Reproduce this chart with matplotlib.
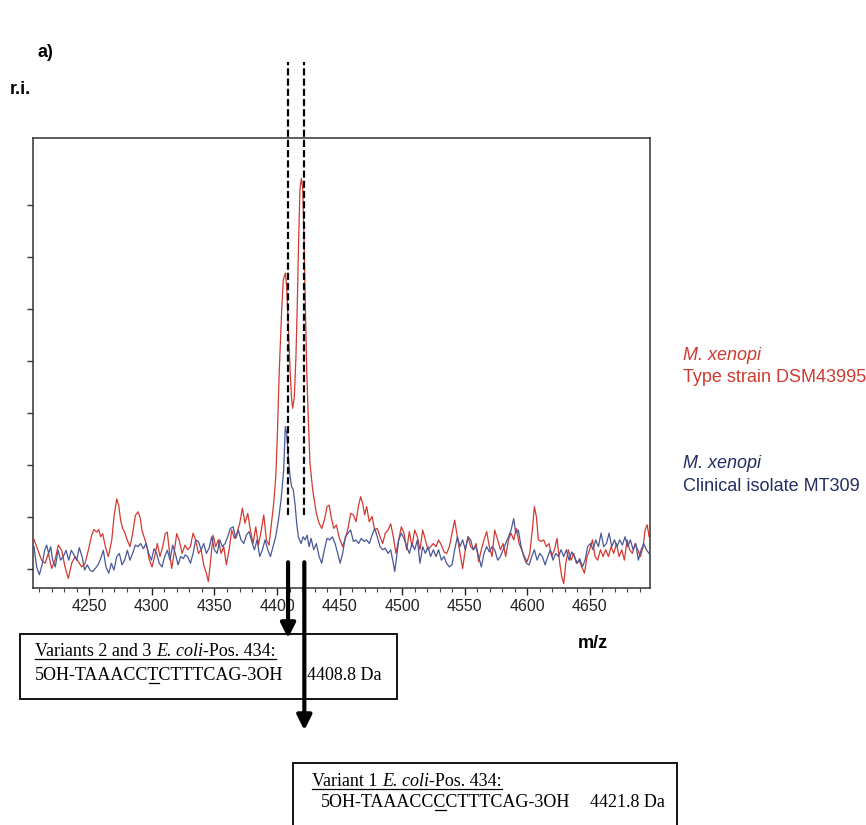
import matplotlib
matplotlib.use('Agg')
import matplotlib.pyplot as plt
from matplotlib.patches import Rectangle
from matplotlib.lines import Line2D

plt.rcParams['font.family'] = ['Liberation Sans', 'DejaVu Sans']

# --- data (m/z, relative intensity) ---
red_mz = [4205.8, 4207.9, 4211.9, 4214.6, 4217.3, 4219.9, 4222.6, 4225.2, 4227.9, 4230.6,
          4233.2, 4235.9, 4238.6, 4241.2, 4243.9, 4246.6, 4249.2, 4251.9, 4253.7, 4255.9,
          4257.5, 4259.1, 4260.7, 4262.8, 4265.2, 4267.9, 4269.7, 4271.9, 4273.5, 4275.0,
          4276.6, 4278.2, 4280.4, 4282.5, 4284.6, 4286.8, 4288.9, 4290.5, 4292.1, 4293.7,
          4295.8, 4298.0, 4300.1, 4302.2, 4304.3, 4306.5, 4308.6, 4310.7, 4312.3, 4313.9,
          4315.8, 4317.7, 4319.8, 4321.9, 4324.1,
          4326.5, 4328.6, 4330.8, 4332.9, 4335.0, 4337.2, 4339.3, 4341.4, 4343.5, 4345.1,
          4346.7, 4348.9, 4351.0, 4353.1, 4355.3, 4357.4, 4359.5, 4361.7, 4363.8, 4365.9,
          4368.0, 4370.2, 4372.3, 4374.4, 4376.6, 4378.7, 4380.8, 4383.0, 4385.1, 4387.2,
          4389.4, 4391.5, 4393.6, 4395.7, 4397.3,
          4399.0, 4400.2, 4401.8, 4403.7, 4405.0, 4406.6, 4407.7, 4409.0, 4410.4, 4411.7,
          4412.5, 4413.8, 4415.1, 4416.2, 4417.3, 4418.3, 4419.4, 4420.5, 4421.5, 4422.6,
          4423.7, 4425.0, 4426.3, 4428.5, 4431.4, 4433.6, 4435.7, 4437.8, 4440.0, 4441.6,
          4443.2, 4445.3, 4447.4, 4449.5,
          4452.4, 4454.6, 4456.7, 4458.8, 4461.0, 4463.1, 4465.2, 4466.8, 4468.4, 4470.0,
          4471.6, 4473.7, 4475.9, 4478.0, 4480.1, 4482.3, 4484.4, 4486.5, 4488.7, 4490.8,
          4492.9, 4495.0, 4497.2, 4499.3, 4501.4, 4503.6, 4505.7, 4507.8, 4510.0, 4512.1,
          4514.2, 4516.4, 4518.5, 4520.6, 4522.7, 4524.9, 4527.0, 4529.1, 4531.3, 4533.4,
          4535.5, 4537.7, 4539.8, 4541.9, 4544.1, 4546.2, 4548.3, 4550.4, 4552.6, 4554.7,
          4556.8, 4559.0, 4561.1, 4563.2, 4565.4, 4567.5, 4569.6, 4571.8, 4573.9,
          4576.3, 4578.5, 4580.6, 4582.7, 4584.9, 4587.0, 4589.1, 4591.2, 4593.4, 4595.5,
          4597.6, 4599.8, 4601.9, 4604.0, 4605.6, 4607.2, 4608.8, 4611.0, 4613.1, 4615.2,
          4617.3, 4619.5, 4621.6, 4623.7, 4625.9, 4627.5, 4629.1, 4630.7, 4632.8, 4634.9,
          4637.1, 4639.2, 4641.3, 4643.5, 4645.6, 4647.7, 4649.8, 4652.0, 4654.1, 4656.2,
          4658.4, 4660.5, 4662.6, 4664.8, 4666.9, 4669.0, 4671.2, 4673.3, 4675.4, 4677.5,
          4679.7, 4681.8, 4683.9, 4686.1, 4688.2, 4690.3, 4692.5, 4694.1, 4695.7, 4697.3]
red_ri = [0.57, 0.43, 0.17, 0.11, 0.30, 0.01, 0.17, 0.46, 0.36, 0.04,
          -0.18, 0.11, 0.24, 0.14, 0.04, 0.11, 0.36, 0.65, 0.76, 0.71,
          0.76, 0.62, 0.68, 0.43, 0.24, 0.55, 1.00, 1.35, 1.22, 0.94,
          0.78, 0.71, 0.55, 0.43, 0.68, 1.03, 1.10, 1.00, 0.74, 0.62,
          0.46, 0.17, 0.04, 0.24, 0.49, 0.24, 0.43, 0.68, 0.71, 0.36,
          0.01, 0.30, 0.68, 0.55, 0.30,
          0.46, 0.37, 0.43, 0.69, 0.56, 0.30, 0.37, 0.08, -0.08, -0.24,
          0.11, 0.65, 0.43, 0.56, 0.30, 0.43, 0.08, 0.37, 0.75, 0.59,
          0.69, 0.88, 1.17, 0.88, 1.07, 0.75, 0.49, 0.81, 0.46, 0.72,
          1.04, 0.56, 0.46, 0.91, 1.26,
          1.78, 2.54, 3.83, 4.98, 5.56, 5.69, 5.43, 4.66, 3.83, 3.25,
          3.09, 3.31, 4.08, 5.11, 6.39, 7.29, 7.51, 7.35, 6.39, 5.11,
          3.83, 2.87, 2.03, 1.52, 1.07, 0.88, 0.78, 0.94, 1.20, 1.23,
          1.00, 0.78, 0.85, 0.62,
          0.43, 0.59, 0.78, 1.07, 1.04, 0.91, 1.23, 1.39, 1.26, 1.04,
          1.20, 0.91, 1.01, 0.75, 0.78, 0.62, 0.49, 0.69, 0.75, 0.87,
          0.62, 0.30, 0.56, 0.81, 0.69, 0.37, 0.72, 0.43, 0.75, 0.62,
          0.37, 0.75, 0.56, 0.37, 0.43, 0.49, 0.43, 0.56, 0.46, 0.33,
          0.30, 0.43, 0.69, 0.94, 0.62, 0.30, 0.01, 0.37, 0.62, 0.43,
          0.37, 0.49, 0.14, 0.37, 0.56, 0.72, 0.43, 0.24, 0.75,
          0.56, 0.37, 0.49, 0.24, 0.56, 0.69, 0.56, 0.78, 0.49, 0.37,
          0.24, 0.14, 0.30, 0.75, 1.20, 1.01, 0.56, 0.53, 0.56, 0.43,
          0.49, 0.24, 0.37, 0.59, 0.11, -0.15, -0.28, 0.11, 0.37, 0.17,
          0.30, 0.11, 0.17, 0.04, -0.08, 0.24, 0.37, 0.56, 0.24, 0.17,
          0.37, 0.24, 0.37, 0.24, 0.43, 0.30, 0.49, 0.24, 0.37, 0.17,
          0.56, 0.37, 0.30, 0.49, 0.37, 0.24, 0.43, 0.75, 0.85, 0.62]

blue_mz = [4205.8, 4207.9, 4210.1, 4212.2, 4214.3, 4215.9, 4217.5, 4219.1, 4220.7,
           4222.8, 4225.0, 4227.1, 4229.2, 4231.4, 4233.5, 4235.6, 4237.8, 4239.9, 4242.0,
           4244.2, 4246.3, 4248.4, 4250.5, 4252.7, 4254.8, 4256.9, 4259.1, 4261.2, 4263.3,
           4265.5, 4267.6, 4269.7, 4271.9, 4274.0, 4276.1, 4278.2, 4280.4, 4282.5, 4284.6,
           4286.8, 4288.9, 4291.0, 4293.2, 4295.3, 4297.4, 4299.6, 4301.7, 4303.8, 4305.9,
           4308.1, 4310.2, 4312.3, 4314.5, 4316.6, 4318.7, 4320.9, 4323.0, 4325.1,
           4326.5, 4328.6, 4330.8, 4332.9, 4335.0, 4337.2, 4339.3, 4341.4, 4343.5, 4345.7,
           4347.8, 4349.9, 4352.1, 4354.2, 4356.3, 4358.5, 4360.6, 4362.7, 4364.9, 4367.0,
           4369.1, 4371.2, 4373.4, 4375.5, 4377.6, 4379.8, 4381.9, 4384.0, 4386.2, 4388.3,
           4390.4, 4392.6, 4394.7, 4396.8, 4398.9, 4401.1, 4403.2, 4405.3,
           4406.6, 4407.7, 4409.0, 4410.4, 4411.7, 4413.0, 4414.3, 4415.7, 4417.0,
           4419.2, 4420.8, 4422.4, 4424.0, 4425.6, 4427.2, 4429.3, 4431.4, 4433.6, 4435.7,
           4437.8, 4440.0, 4442.1, 4444.2, 4446.4, 4448.5, 4450.4,
           4452.4, 4454.6, 4456.7, 4458.8, 4461.0, 4463.1, 4465.2, 4467.3, 4469.5, 4471.6,
           4473.7, 4475.9, 4478.0, 4480.1, 4482.3, 4484.4, 4486.5, 4488.7, 4490.8, 4492.9,
           4494.0, 4495.6, 4497.2, 4499.3, 4501.4, 4503.6, 4505.7, 4507.8, 4510.0, 4512.1,
           4514.2, 4516.4, 4518.5, 4520.6, 4522.7, 4524.9, 4527.0, 4529.1, 4531.3, 4533.4,
           4535.5, 4537.7, 4539.8, 4541.9, 4544.1, 4546.2, 4548.3, 4550.4, 4552.6, 4554.7,
           4556.8, 4559.0, 4561.1, 4563.2, 4565.4, 4567.5, 4569.6, 4571.8, 4573.9,
           4576.3, 4578.5, 4580.6, 4582.7, 4584.9, 4587.0, 4589.1,
           4590.7, 4592.8, 4595.0, 4597.1, 4599.2, 4601.4, 4603.5, 4605.6, 4607.8, 4609.9,
           4612.0, 4614.2, 4616.3, 4618.4, 4620.5, 4622.7, 4624.8, 4626.9, 4629.1, 4631.2,
           4633.3, 4635.5, 4637.6, 4639.7, 4641.9, 4644.0, 4646.1, 4648.2, 4650.4, 4652.5,
           4654.6, 4656.8, 4658.9, 4661.0, 4663.2, 4665.3, 4667.4, 4669.6, 4671.7, 4673.8,
           4675.9, 4678.1, 4680.2, 4682.3, 4684.5, 4686.6, 4688.7, 4690.9, 4693.0, 4695.1,
           4697.3]
blue_ri = [0.43, 0.04, -0.11, 0.08, 0.36, 0.46, 0.30, 0.43, 0.17,
           0.04, 0.36, 0.17, 0.24, 0.36, 0.17, 0.36, 0.27, 0.17, 0.41,
           0.24, -0.02, 0.08, -0.02, -0.05, 0.01, 0.08, 0.20, 0.36, 0.04,
           -0.08, 0.11, -0.02, 0.24, 0.30, 0.08, 0.17, 0.36, 0.17, 0.30,
           0.46, 0.43, 0.49, 0.39, 0.49, 0.30, 0.17, 0.39, 0.30, 0.11,
           0.04, 0.24, 0.36, 0.17, 0.46, 0.30, 0.08, 0.24, 0.20,
           0.27, 0.24, 0.11, 0.30, 0.56, 0.53, 0.37, 0.49, 0.30, 0.40,
           0.62, 0.37, 0.30, 0.56, 0.43, 0.49, 0.62, 0.78, 0.81, 0.59,
           0.75, 0.56, 0.49, 0.65, 0.72, 0.53, 0.37, 0.56, 0.24, 0.37,
           0.56, 0.37, 0.24, 0.43, 0.62, 0.94, 1.33, 1.90,
           2.74, 2.61, 2.16, 1.78, 1.58, 1.52, 1.26, 0.88, 0.62,
           0.49, 0.62, 0.56, 0.65, 0.43, 0.59, 0.37, 0.49, 0.24, 0.11,
           0.37, 0.59, 0.56, 0.62, 0.49, 0.30, 0.11,
           0.30, 0.62, 0.69, 0.75, 0.53, 0.56, 0.49, 0.59, 0.53, 0.56,
           0.49, 0.65, 0.78, 0.62, 0.43, 0.37, 0.40, 0.30, 0.37, 0.11,
           -0.05, 0.24, 0.56, 0.69, 0.59, 0.43, 0.30, 0.49, 0.37, 0.56,
           0.11, 0.43, 0.30, 0.43, 0.24, 0.37, 0.24, 0.37, 0.17, 0.24,
           0.11, 0.04, 0.08, 0.37, 0.62, 0.43, 0.56, 0.37, 0.62, 0.56,
           0.37, 0.43, 0.24, 0.04, 0.30, 0.43, 0.33, 0.43, 0.37,
           0.17, 0.24, 0.37, 0.49, 0.62, 0.75, 0.97,
           0.69, 0.75, 0.43, 0.24, 0.11, 0.08, 0.24, 0.37, 0.17, 0.30,
           0.24, 0.08, 0.24, 0.37, 0.17, 0.30, 0.24, 0.37, 0.24, 0.37,
           0.17, 0.33, 0.24, 0.11, 0.20, 0.04, 0.17, 0.43, 0.49, 0.37,
           0.56, 0.43, 0.69, 0.43, 0.49, 0.69, 0.43, 0.56, 0.43, 0.56,
           0.46, 0.62, 0.43, 0.56, 0.37, 0.49, 0.17, 0.37, 0.49, 0.37,
           0.30]

variant_mz = [4408.8, 4421.8]
x_ticks = [4250, 4300, 4350, 4400, 4450, 4500, 4550, 4600, 4650]

RED = '#d13a30'
BLUE = '#4a5898'
SERIF = 'Liberation Serif'
SERIF_SIZE = 13

W, H = 866, 825
fig = plt.figure(figsize=(W / 100, H / 100), dpi=100)


def fx(x):
    return x / W


def fy(y):
    return 1 - y / H


ax = fig.add_axes([fx(33), fy(588), (650 - 33) / W, (588 - 138) / H])
ax.plot(red_mz, red_ri, color=RED, lw=0.9)
ax.plot(blue_mz, blue_ri, color=BLUE, lw=0.9)
ax.set_xlim(4205, 4698)
ax.set_ylim(-0.365, 8.288)
ax.set_xticks(x_ticks)
ax.set_xticks(range(4210, 4698, 10), minor=True)
ax.set_yticks(range(0, 8))
ax.set_yticklabels([])
ax.tick_params(axis='x', which='major', direction='out', length=5, width=1,
               labelsize=11.5, pad=3, colors='#222222')
ax.tick_params(axis='x', which='minor', direction='out', length=3, width=0.8,
               colors='#444444')
ax.tick_params(axis='y', direction='out', length=4, width=1, colors='#333333')
for s in ax.spines.values():
    s.set_linewidth(1.1)
    s.set_color('#333333')

# dashed markers at the two variant masses, running above the frame
for m in variant_mz:
    ax.plot([m, m], [1.04, 9.75], color='k', lw=1.6, ls=(0, (3.2, 1.4)),
            clip_on=False)

# arrows down to the boxes
ax.annotate('', xy=(variant_mz[0], -1.33), xytext=(variant_mz[0], 0.13),
            arrowprops=dict(arrowstyle='-|>', color='k', lw=3, mutation_scale=22,
                            shrinkA=0, shrinkB=0), annotation_clip=False)
ax.annotate('', xy=(variant_mz[1], -3.1), xytext=(variant_mz[1], 0.13),
            arrowprops=dict(arrowstyle='-|>', color='k', lw=3, mutation_scale=22,
                            shrinkA=0, shrinkB=0), annotation_clip=False)

# labels
fig.text(fx(38), fy(57), 'a)', fontsize=13, fontweight='bold', va='baseline')
fig.text(fx(10), fy(94), 'r.i.', fontsize=13, fontweight='bold', va='baseline')
fig.text(fx(578), fy(648), 'm/z', fontsize=13, fontweight='bold', va='baseline')

fig.text(fx(683), fy(360), 'M. xenopi', fontsize=13, style='italic', color='#cc3a30',
         va='baseline')
fig.text(fx(683), fy(382), 'Type strain DSM43995', fontsize=13, color='#cc3a30',
         va='baseline')
fig.text(fx(683), fy(468), 'M. xenopi', fontsize=13, style='italic', color='#232c63',
         va='baseline')
fig.text(fx(683), fy(491), 'Clinical isolate MT309', fontsize=13, color='#232c63',
         va='baseline')

# boxes
fig.add_artist(Rectangle((fx(20), fy(699)), (397 - 20) / W, (699 - 634) / H,
                         transform=fig.transFigure, fill=False, lw=1.3, ec='k'))
fig.add_artist(Rectangle((fx(293), fy(830)), (677 - 293) / W, (830 - 763) / H,
                         transform=fig.transFigure, fill=False, lw=1.3, ec='k'))

renderer = fig.canvas.get_renderer()


def underline(x0, x1, base):
    y = fy(base + 2.5)
    fig.add_artist(Line2D([x0 / W, x1 / W], [y, y], transform=fig.transFigure,
                          color='k', lw=0.9))


def width_of(s, style='normal'):
    t = fig.text(0, 0, s, fontsize=SERIF_SIZE, family=SERIF, style=style)
    w = t.get_window_extent(renderer).width
    t.remove()
    return w


SPACE = width_of('a a') - width_of('aa')


def heading(x, base, pieces):
    # pieces: (text, style, space_after)
    x_px = x
    for s, style, gap in pieces:
        t = fig.text(fx(x_px), fy(base), s, fontsize=SERIF_SIZE, family=SERIF,
                     style=style, va='baseline')
        x_px = t.get_window_extent(renderer).x1 + (SPACE if gap else 0)
    underline(x, x_px, base)


def sequence(x, base, s, k):
    t = fig.text(fx(x), fy(base), s, fontsize=SERIF_SIZE, family=SERIF, va='baseline')
    x0 = t.get_window_extent(renderer).x0
    underline(x0 + width_of(s[:k]) + 0.5, x0 + width_of(s[:k + 1]) - 0.5, base)


heading(35, 656, [('Variants 2 and 3', 'normal', True), ('E. coli', 'italic', False),
                  ('-Pos. 434:', 'normal', False)])
sequence(35, 680, '5OH-TAAACCTCTTTCAG-3OH', 10)
fig.text(fx(307), fy(680), '4408.8 Da', fontsize=SERIF_SIZE, family=SERIF, va='baseline')

heading(312, 786, [('Variant 1', 'normal', True), ('E. coli', 'italic', False),
                   ('-Pos. 434:', 'normal', False)])
sequence(321, 807, '5OH-TAAACCCCTTTCAG-3OH', 10)
fig.text(fx(590), fy(807), '4421.8 Da', fontsize=SERIF_SIZE, family=SERIF, va='baseline')

fig.savefig('out.png', dpi=100)
